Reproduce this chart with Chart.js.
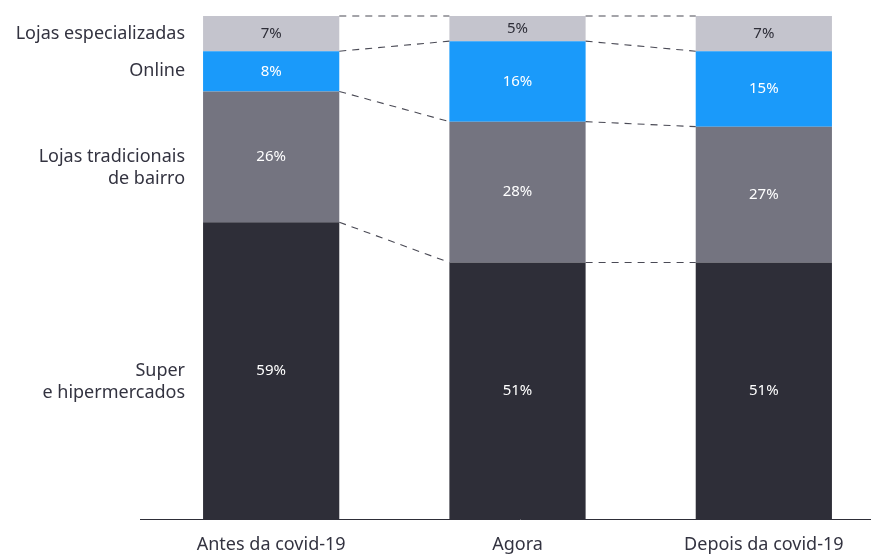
<!DOCTYPE html>
<html lang="pt">
<head>
<meta charset="utf-8">
<title>Canais de compra</title>
<script src="https://cdn.jsdelivr.net/npm/chart.js@4.4.1/dist/chart.umd.min.js"></script>
<style>
  html, body { margin: 0; padding: 0; background: #fff; overflow: hidden; }
  #wrap { width: 900px; height: 554px; }
</style>
</head>
<body>
<div id="wrap"><canvas id="grafico" width="900" height="554"></canvas></div>
<script>
const categorias = ["Antes da covid-19", "Agora", "Depois da covid-19"];
const superHiper = [59, 51, 51];
const tradicionais = [26, 28, 27];
const online = [8, 16, 15];
const especializadas = [7, 5, 7];

const nomesCanais = [
  ["Super", "e hipermercados"],
  ["Lojas tradicionais", "de bairro"],
  ["Online"],
  ["Lojas especializadas"]
];
const cores = ["#2e2e38", "#747480", "#1a9afa", "#c4c4cd"];
const coresTexto = ["#ffffff", "#ffffff", "#ffffff", "#2e2e38"];
const fonte = "'Noto Sans', sans-serif";

const series = [superHiper, tradicionais, online, especializadas];

// linha do eixo, linhas tracejadas entre barras, rótulos e nomes dos canais
const extras = {
  id: "extras",
  beforeDatasetsDraw(chart) {
    const ctx = chart.ctx;
    const area = chart.chartArea;
    ctx.save();
    ctx.strokeStyle = "#2e2e38";
    ctx.lineWidth = 1;
    ctx.beginPath();
    ctx.moveTo(140, area.bottom + 0.5);
    ctx.lineTo(area.right + 20, area.bottom + 0.5);
    ctx.stroke();
    ctx.restore();
  },
  afterDatasetsDraw(chart) {
    const ctx = chart.ctx;
    ctx.save();

    // tracejado ligando o topo de cada segmento entre as barras
    ctx.strokeStyle = "#4a4a55";
    ctx.lineWidth = 1.1;
    ctx.setLineDash([7, 6]);
    chart.data.datasets.forEach((ds, d) => {
      const barras = chart.getDatasetMeta(d).data;
      for (let i = 0; i < barras.length - 1; i++) {
        const a = barras[i];
        const b = barras[i + 1];
        ctx.beginPath();
        ctx.moveTo(a.x + a.width / 2, a.y);
        ctx.lineTo(b.x - b.width / 2, b.y);
        ctx.stroke();
      }
    });
    ctx.setLineDash([]);

    // percentuais dentro das barras
    ctx.font = "15px " + fonte;
    ctx.textAlign = "center";
    ctx.textBaseline = "middle";
    chart.data.datasets.forEach((ds, d) => {
      const barras = chart.getDatasetMeta(d).data;
      barras.forEach((bar, i) => {
        ctx.fillStyle = coresTexto[d];
        ctx.fillText(ds.data[i] + "%", bar.x, (bar.y + bar.base) / 2);
      });
    });

    // nomes dos canais à esquerda da primeira barra
    ctx.font = "18px " + fonte;
    ctx.textAlign = "right";
    ctx.fillStyle = "#333340";
    chart.data.datasets.forEach((ds, d) => {
      const bar = chart.getDatasetMeta(d).data[0];
      const yMeio = (bar.y + bar.base) / 2;
      const x = bar.x - bar.width / 2 - 18;
      nomesCanais[d].forEach((linha, k) => {
        ctx.fillText(linha, x, yMeio + k * 22);
      });
    });
    ctx.restore();
  }
};

new Chart(document.getElementById("grafico"), {
  type: "bar",
  data: {
    labels: categorias,
    datasets: series.map((valores, d) => ({
      label: nomesCanais[d].join(" "),
      data: valores,
      backgroundColor: cores[d],
      borderWidth: 0,
      categoryPercentage: 1,
      barPercentage: 0.553
    }))
  },
  options: {
    responsive: false,
    animation: false,
    layout: { padding: { left: 148, right: 13, top: 16, bottom: 0 } },
    plugins: {
      legend: { display: false },
      tooltip: { enabled: false }
    },
    scales: {
      x: {
        stacked: true,
        grid: { display: false, drawTicks: false },
        border: { display: false },
        ticks: {
          color: "#333340",
          padding: 15,
          font: { family: fonte, size: 18 }
        },
        afterFit(scale) {
          scale.height = 35;
        }
      },
      y: {
        stacked: true,
        display: false,
        min: 0,
        max: 100
      }
    }
  },
  plugins: [extras]
});
</script>
</body>
</html>
